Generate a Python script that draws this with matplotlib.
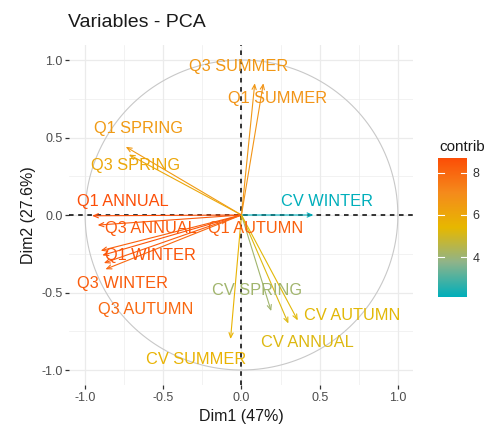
import matplotlib
matplotlib.use('Agg')
import matplotlib.pyplot as plt
from matplotlib.colors import LinearSegmentedColormap, Normalize
import numpy as np

plt.rcParams['font.family'] = ['Liberation Sans', 'DejaVu Sans']

#================================================
# Data

variables = ['Q3 SUMMER', 'Q1 SUMMER', 'Q1 SPRING', 'Q3 SPRING', 'Q1 ANNUAL',
             'Q3 ANNUAL', 'Q1 AUTUMN', 'Q1 WINTER', 'Q3 WINTER', 'Q3 AUTUMN',
             'CV WINTER', 'CV SPRING', 'CV AUTUMN', 'CV ANNUAL', 'CV SUMMER']
dim1 = [0.085, 0.14, -0.74, -0.72, -0.955, -0.92, -0.90, -0.89, -0.88, -0.87,
        0.46, 0.19, 0.36, 0.30, -0.07]
dim2 = [0.85, 0.85, 0.44, 0.39, -0.005, -0.065, -0.23, -0.26, -0.31, -0.35,
        0.0, -0.62, -0.68, -0.70, -0.80]
contrib = [6.6, 6.7, 6.5, 6.0, 8.7, 8.4, 8.2, 8.5, 8.3, 8.0,
           2.1, 4.1, 5.3, 5.2, 5.6]

xlabel = 'Dim1 (47%)'
ylabel = 'Dim2 (27.6%)'
ticks = [-1.0, -0.5, 0.0, 0.5, 1.0]
cbar_ticks = [4, 6, 8]

# label placement (shift from arrow tip, data units)
label_nudge = [(-0.105, 0.11), (0.09, -0.10), (0.08, 0.115), (0.04, -0.07),
               (0.195, 0.095), (0.34, -0.025), (0.99, 0.14), (0.31, 0.0),
               (0.12, -0.13), (0.26, -0.26), (0.085, 0.085), (-0.09, 0.13),
               (0.35, 0.03), (0.12, -0.12), (-0.22, -0.13)]

#================================================
# Figure

# gradient teal -> yellow -> red-orange, with mid stops mimicking Lab blending
cmap = LinearSegmentedColormap.from_list(
    'fx', [(0.0, '#00AFBB'), (0.25, '#8FB48A'), (0.5, '#E7B800'),
           (0.75, '#F58B1C'), (1.0, '#FC4E07')])
norm = Normalize(vmin=min(contrib), vmax=max(contrib))

fig = plt.figure(figsize=(4.9, 4.33), dpi=100)
ax = fig.add_axes([0.1418, 0.1097, 0.702, 0.7875])
ax.set_xlim(-1.1, 1.1)
ax.set_ylim(-1.1, 1.1)

# grid (theme_minimal look)
for v in np.arange(-1.0, 1.01, 0.25):
    lw = 0.9 if abs(v * 2 - round(v * 2)) < 1e-9 else 0.45
    ax.axvline(v, color='#EBEBEB', lw=lw, zorder=0)
    ax.axhline(v, color='#EBEBEB', lw=lw, zorder=0)

for s in ax.spines.values():
    s.set_visible(False)

# correlation circle
t = np.linspace(0, 2 * np.pi, 400)
ax.plot(np.cos(t), np.sin(t), color='#C8C8C8', lw=0.8, zorder=1)

ax.axhline(0, color='black', lw=1.1, ls=(0, (3, 3)), zorder=2)
ax.axvline(0, color='black', lw=1.1, ls=(0, (3, 3)), zorder=2)

for name, x, y, c, (dx, dy) in zip(variables, dim1, dim2, contrib, label_nudge):
    col = cmap(norm(c))
    ax.annotate('', xy=(x, y), xytext=(0, 0),
                arrowprops=dict(arrowstyle='->,head_length=0.35,head_width=0.15',
                                color=col, lw=0.8, shrinkA=0, shrinkB=0),
                zorder=3)
    ax.text(x + dx, y + dy, name, color=col, fontsize=11.8,
            ha='center', va='center', zorder=4)

ax.set_xticks(ticks)
ax.set_yticks(ticks)
ax.set_xticklabels([f'{v:.1f}' for v in ticks])
ax.set_yticklabels([f'{v:.1f}' for v in ticks])
ax.tick_params(colors='#333333', labelcolor='#4D4D4D', labelsize=9,
               length=3, width=0.9, pad=2)
ax.set_xlabel(xlabel, fontsize=11.5, color='#1A1A1A', labelpad=3)
ax.set_ylabel(ylabel, fontsize=11.5, color='#1A1A1A', labelpad=4)

fig.text(0.139, 0.948, 'Variables - PCA', fontsize=14, color='#1A1A1A',
         ha='left', va='center')

# colour bar
cax = fig.add_axes([0.894, 0.314, 0.059, 0.321])
grad = np.linspace(norm.vmin, norm.vmax, 256).reshape(-1, 1)
cax.imshow(grad, aspect='auto', cmap=cmap, norm=norm, origin='lower',
           extent=[0, 1, norm.vmin, norm.vmax])
cax.set_xlim(0, 1)
cax.set_ylim(norm.vmin, norm.vmax)
cax.set_xticks([])
for s in cax.spines.values():
    s.set_visible(False)
for v in cbar_ticks:
    cax.plot([0, 0.2], [v, v], color='white', lw=0.8)
    cax.plot([0.8, 1], [v, v], color='white', lw=0.8)
cax.yaxis.tick_right()
cax.set_yticks(cbar_ticks)
cax.set_yticklabels([str(v) for v in cbar_ticks])
cax.tick_params(axis='y', length=0, labelsize=9, labelcolor='#333333', pad=4)
fig.text(0.896, 0.66, 'contrib', fontsize=11, color='#1A1A1A',
         ha='left', va='center')

fig.savefig('out.png', dpi=100)
